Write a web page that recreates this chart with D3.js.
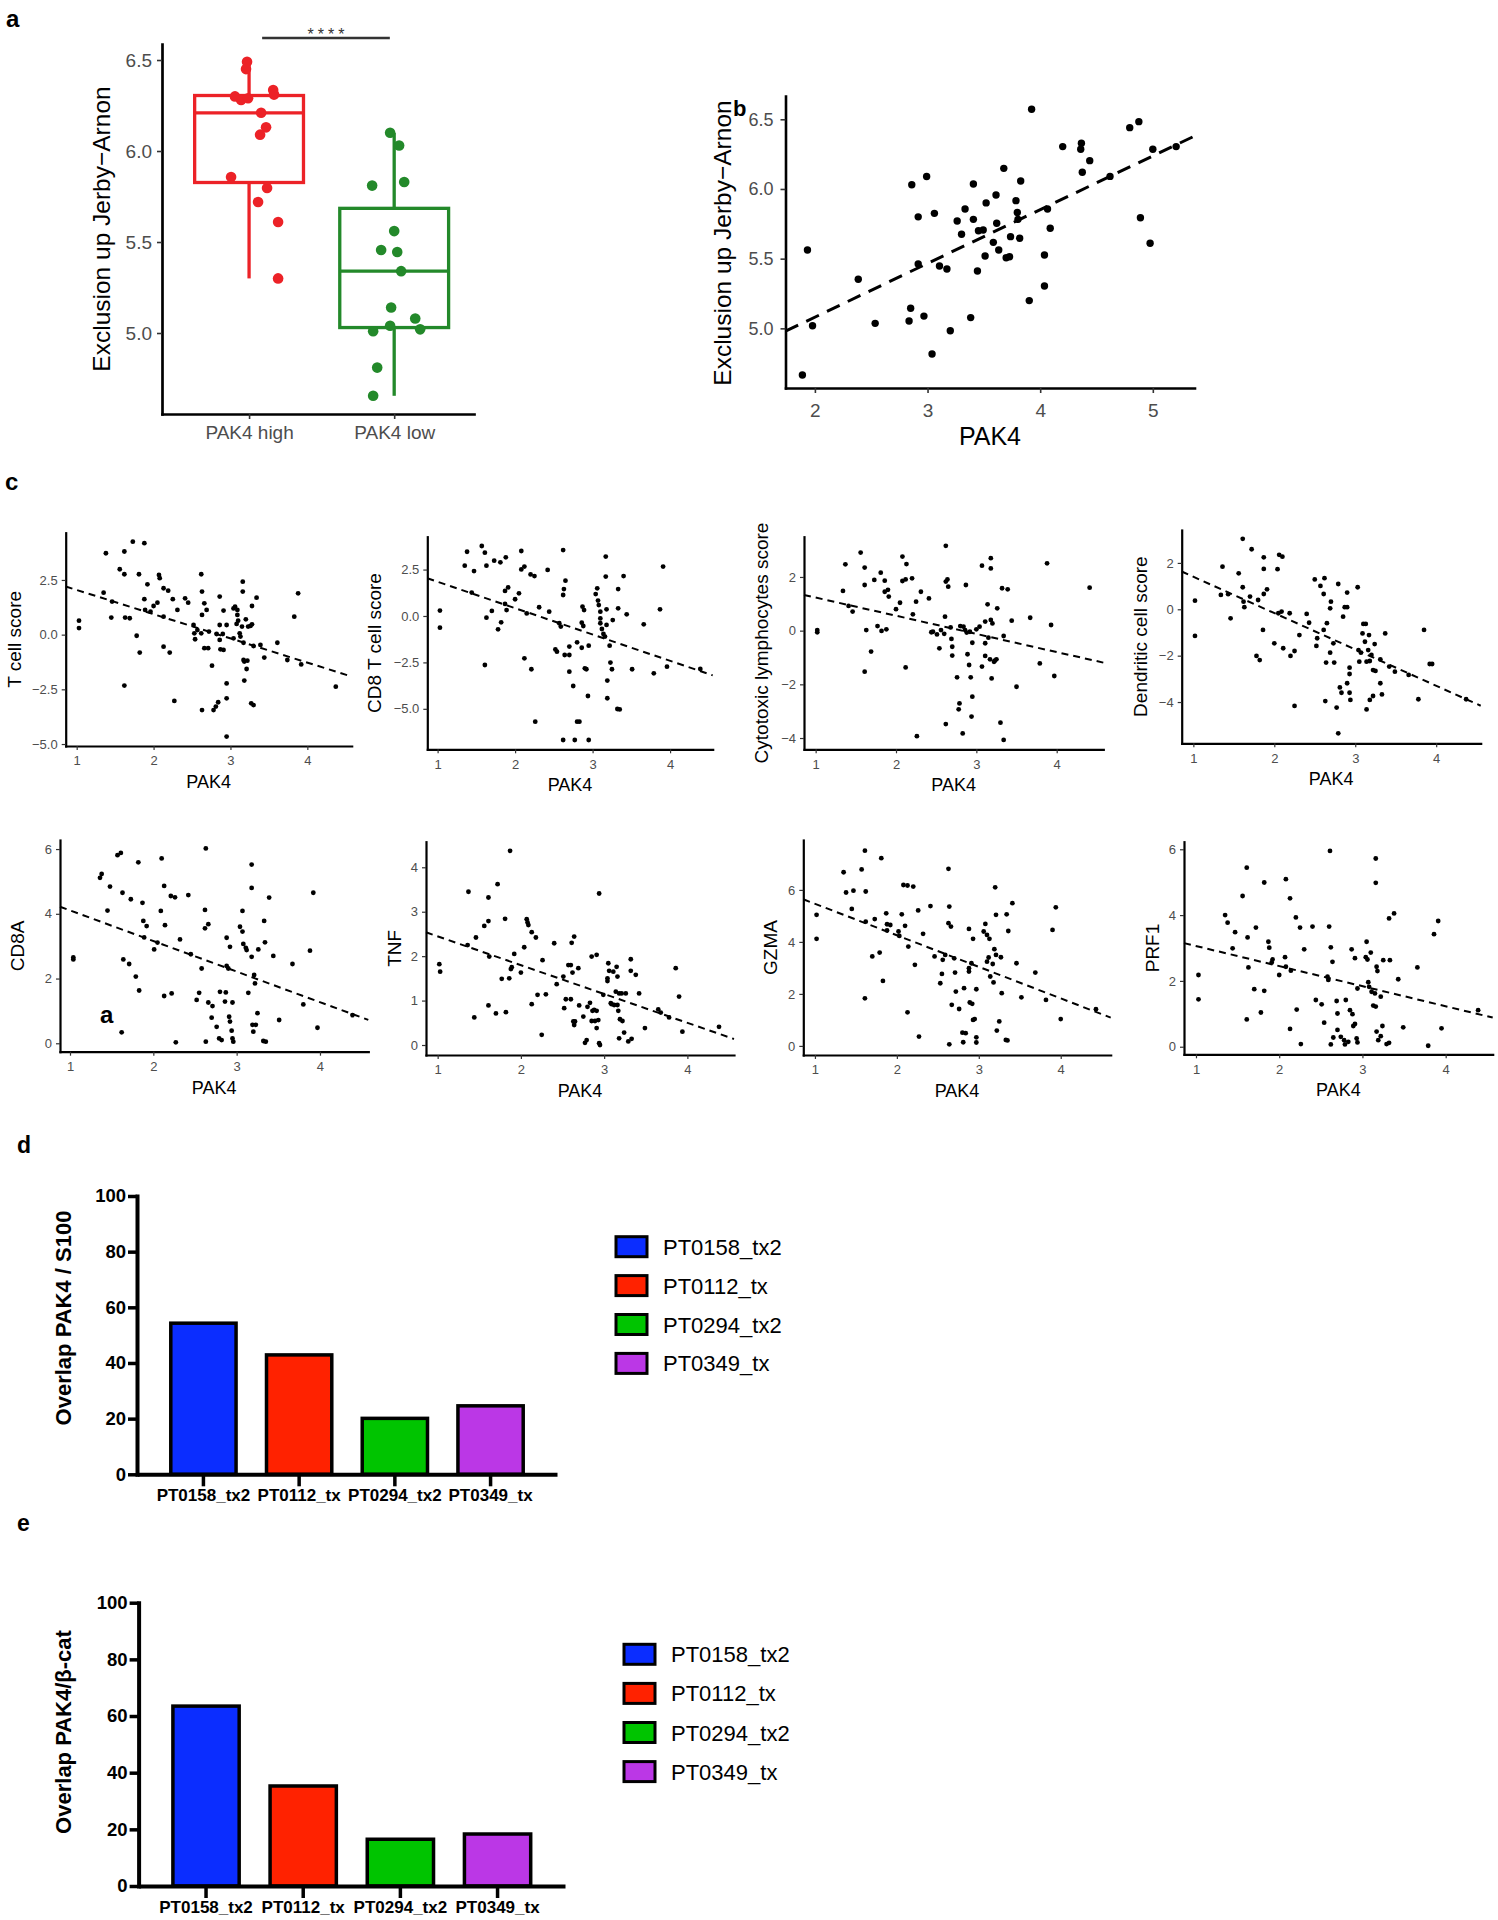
<!DOCTYPE html>
<html><head><meta charset="utf-8">
<script src="https://cdn.jsdelivr.net/npm/d3@7"></script>
<style>body{margin:0;background:#fff;}</style>
</head><body>
<svg id="fig" width="1498" height="1920" xmlns="http://www.w3.org/2000/svg"></svg>
<script>
// ---------------- DATA ----------------
// Panel a: [jittered group position, Exclusion up Jerby-Arnon]
const groupLabels = ["PAK4 high", "PAK4 low"];
const pak4High = [[0.986,6.49],[0.979,6.45],[0.903,6.30],[0.945,6.28],[0.993,6.29],[1.166,6.335],[1.172,6.31],[1.083,6.21],[1.117,6.13],[1.076,6.09],[0.876,5.857],[1.124,5.797],[1.062,5.72],[1.2,5.61],[1.2,5.30]];
const pak4Low = [[1.972,6.10],[2.034,6.03],[1.848,5.81],[2.069,5.83],[2.0,5.56],[1.91,5.456],[2.021,5.445],[2.048,5.34],[1.979,5.14],[2.145,5.08],[1.972,5.04],[1.855,5.01],[2.179,5.02],[1.883,4.81],[1.855,4.655]];
const aTicks = [5.0, 5.5, 6.0, 6.5];
const sigSpan = [1.09, 1.97];
const sigLabel = "****";

// Panel b: [PAK4, Exclusion up Jerby-Arnon]
const bPoints = [[3.924,6.572],[4.795,6.44],[4.876,6.483],[4.2,6.304],[4.366,6.328],[4.36,6.285],[4.44,6.203],[4.374,6.12],[4.62,6.09],[5.0,6.285],[5.207,6.304],[4.89,5.794],[4.976,5.61],[3.677,6.148],[2.992,6.089],[2.86,6.03],[3.407,6.036],[3.827,6.057],[3.608,5.957],[3.52,5.90],[3.785,5.916],[3.333,5.856],[4.065,5.856],[3.797,5.832],[3.061,5.825],[2.917,5.80],[3.407,5.782],[3.803,5.782],[3.263,5.77],[3.614,5.754],[4.089,5.718],[3.452,5.70],[3.494,5.706],[3.302,5.675],[3.737,5.658],[3.818,5.646],[3.584,5.617],[3.632,5.562],[4.038,5.526],[3.511,5.519],[3.698,5.507],[3.728,5.514],[2.917,5.462],[3.106,5.447],[3.172,5.426],[3.443,5.411],[1.934,5.562],[2.385,5.352],[4.038,5.304],[3.903,5.199],[2.85,5.144],[2.836,5.053],[2.968,5.088],[3.383,5.077],[2.535,5.036],[1.979,5.019],[3.202,4.983],[3.04,4.816],[1.889,4.665]];
const bFit = [4.309, 0.3856];      // intercept, slope
const bXTicks = [2, 3, 4, 5];
const bYTicks = [5.0, 5.5, 6.0, 6.5];

// Panel c: [PAK4, score]
const tCellScore = [[1.03,0.64],[1.03,0.30],[1.38,3.72],[1.35,1.92],[1.46,1.51],[1.45,0.78],[1.56,2.99],[1.62,3.80],[1.62,2.76],[1.73,4.25],[1.88,4.18],[1.63,0.78],[1.69,0.75],[1.62,-2.33],[1.81,2.76],[1.78,-0.05],[1.82,-0.82],[1.92,2.30],[1.88,1.62],[1.89,1.13],[1.96,1.05],[2.0,1.31],[2.05,1.46],[2.07,2.73],[2.08,2.58],[2.13,2.12],[2.19,2.01],[2.13,0.82],[2.13,-0.55],[2.21,-0.82],[2.25,1.62],[2.31,1.13],[2.27,-3.03],[2.41,1.66],[2.45,1.46],[2.52,0.44],[2.53,0.06],[2.54,-0.21],[2.57,0.21],[2.62,0.06],[2.62,2.76],[2.63,1.97],[2.66,1.43],[2.63,0.90],[2.66,-0.62],[2.71,-0.62],[2.69,1.13],[2.72,0.14],[2.63,-3.45],[2.76,-1.42],[2.78,-3.45],[2.81,-3.29],[2.84,-3.09],[2.82,0.03],[2.86,0.44],[2.86,1.74],[2.86,-0.24],[2.87,-0.67],[2.91,-0.70],[2.90,0.03],[2.91,1.10],[2.95,0.44],[2.95,-2.23],[2.95,-2.91],[2.95,-4.66],[3.04,1.20],[3.06,1.28],[3.09,1.13],[3.09,0.90],[3.08,0.49],[3.10,0.64],[3.04,-0.17],[3.12,0.06],[3.13,-0.09],[3.15,0.37],[3.16,1.97],[3.16,2.42],[3.17,-0.37],[3.17,-1.16],[3.18,-1.23],[3.18,-2.10],[3.20,0.70],[3.21,-1.57],[3.22,-1.19],[3.23,0.37],[3.26,0.40],[3.28,1.31],[3.28,0.47],[3.30,-0.52],[3.27,-3.14],[3.30,-3.22],[3.34,1.69],[3.39,-0.47],[3.44,-1.05],[3.61,-0.37],[3.74,-1.16],[3.83,0.82],[3.88,1.89],[3.92,-1.36],[4.37,-2.38]];
const cd8TCellScore = [[1.03,0.29],[1.03,-0.63],[1.35,2.71],[1.38,3.46],[1.47,2.42],[1.44,1.26],[1.57,3.77],[1.61,3.41],[1.63,2.71],[1.63,-0.09],[1.61,-2.64],[1.70,0.27],[1.73,2.98],[1.81,2.89],[1.82,-0.34],[1.78,-0.72],[1.88,3.16],[1.87,1.35],[1.91,1.54],[1.89,0.32],[1.87,0.65],[2.0,0.90],[2.05,1.22],[2.08,3.50],[2.08,2.51],[2.12,2.66],[2.15,0.14],[2.12,-2.28],[2.20,2.24],[2.25,2.15],[2.21,-2.87],[2.26,-5.69],[2.31,0.47],[2.42,2.48],[2.44,0.23],[2.52,-1.80],[2.54,-1.92],[2.57,-0.39],[2.59,-0.57],[2.62,3.55],[2.62,1.13],[2.63,1.45],[2.65,1.90],[2.64,-2.10],[2.70,-2.10],[2.70,-1.65],[2.70,-3.00],[2.62,-6.68],[2.75,-3.77],[2.77,-6.68],[2.80,-5.69],[2.83,-5.69],[2.80,-1.42],[2.86,-0.36],[2.86,-1.71],[2.87,0.50],[2.89,0.32],[2.88,-0.54],[2.90,-2.82],[2.92,-2.87],[2.95,-1.60],[2.94,-4.31],[2.95,-6.68],[3.04,1.18],[3.06,1.49],[3.07,0.83],[3.08,0.59],[3.10,0.23],[3.10,-0.13],[3.10,-0.39],[3.12,-0.70],[3.14,-0.97],[3.16,-1.11],[3.17,3.20],[3.17,2.12],[3.18,0.36],[3.18,-0.48],[3.19,-3.48],[3.19,-4.43],[3.22,-1.60],[3.23,-2.51],[3.25,-2.87],[3.26,-0.22],[3.32,-5.01],[3.35,-5.03],[3.33,0.41],[3.33,1.45],[3.40,2.15],[3.44,0.09],[3.51,-2.87],[3.66,-0.45],[3.79,-3.09],[3.87,0.36],[3.91,2.66],[3.96,-2.73],[4.39,-2.85]];
const cytotoxicScore = [[1.02,0.02],[1.02,-0.06],[1.34,1.48],[1.37,2.47],[1.41,0.92],[1.46,0.71],[1.56,2.91],[1.61,2.35],[1.61,1.70],[1.63,0.02],[1.61,-1.53],[1.69,-0.78],[1.73,1.89],[1.77,0.17],[1.81,2.16],[1.82,-0.01],[1.86,1.86],[1.86,1.45],[1.88,0.05],[1.90,1.52],[1.91,1.27],[2.0,0.80],[2.05,1.04],[2.08,2.76],[2.08,1.85],[2.12,1.91],[2.13,2.48],[2.12,-1.37],[2.20,1.95],[2.21,0.61],[2.25,1.08],[2.26,-3.93],[2.31,1.45],[2.41,1.20],[2.44,-0.06],[2.46,-0.04],[2.51,-0.14],[2.54,-0.66],[2.56,0.02],[2.60,-0.12],[2.61,0.52],[2.62,3.16],[2.62,1.83],[2.64,1.91],[2.65,1.64],[2.62,-3.48],[2.68,0.12],[2.69,-0.31],[2.70,-0.60],[2.70,-0.93],[2.76,-1.74],[2.78,-2.93],[2.79,-2.71],[2.80,0.17],[2.83,-3.83],[2.84,0.15],[2.86,0.02],[2.87,1.70],[2.88,-0.07],[2.89,-0.88],[2.91,-1.28],[2.92,-0.04],[2.93,-1.74],[2.95,-2.46],[2.95,-0.45],[2.94,-3.20],[3.0,0.05],[3.04,0.15],[3.07,2.42],[3.07,-1.34],[3.11,0.34],[3.11,-0.47],[3.11,-0.94],[3.14,0.98],[3.15,-0.26],[3.17,-1.07],[3.18,2.32],[3.18,2.70],[3.18,0.40],[3.19,-1.78],[3.20,0.27],[3.22,-1.16],[3.23,-1.12],[3.25,-1.07],[3.26,0.83],[3.30,-3.43],[3.32,1.58],[3.34,-0.20],[3.34,-4.07],[3.39,1.54],[3.44,0.37],[3.50,-2.09],[3.67,0.48],[3.79,-1.22],[3.88,2.51],[3.93,0.21],[3.97,-1.69],[4.41,1.60]];
const dendriticScore = [[1.02,0.37],[1.02,-1.15],[1.36,1.84],[1.34,0.62],[1.43,0.65],[1.46,-0.39],[1.56,1.55],[1.61,3.04],[1.61,0.95],[1.62,0.33],[1.63,0.09],[1.70,0.55],[1.72,2.59],[1.78,-2.01],[1.82,-2.19],[1.80,0.40],[1.87,2.24],[1.87,1.74],[1.86,-0.89],[1.87,0.66],[1.91,0.86],[2.0,-1.47],[2.04,1.73],[2.06,2.35],[2.10,2.27],[2.05,-0.17],[2.09,-0.10],[2.11,-1.68],[2.19,-0.17],[2.20,-2.01],[2.25,-1.80],[2.25,-4.17],[2.31,-1.11],[2.40,-0.20],[2.43,-0.58],[2.50,1.29],[2.52,-1.58],[2.53,-1.25],[2.57,1.01],[2.61,0.66],[2.62,1.34],[2.61,-0.89],[2.63,-3.96],[2.65,-0.60],[2.64,-2.30],[2.69,0.04],[2.69,-1.87],[2.70,0.33],[2.74,-2.30],[2.73,-1.47],[2.77,-4.24],[2.79,-5.35],[2.79,1.09],[2.81,-3.37],[2.83,-3.60],[2.85,-0.32],[2.87,0.09],[2.90,0.09],[2.90,0.72],[2.90,-3.19],[2.93,-2.79],[2.93,-2.52],[2.93,-3.60],[2.94,-3.91],[3.03,0.95],[3.04,-1.76],[3.05,-2.26],[3.07,-1.87],[3.09,-1.04],[3.10,-0.63],[3.12,-1.40],[3.13,-0.63],[3.14,-2.26],[3.14,-4.32],[3.16,-1.76],[3.17,-1.11],[3.18,-2.23],[3.18,-3.91],[3.20,-1.97],[3.22,-2.62],[3.22,-3.74],[3.25,-2.66],[3.24,-1.50],[3.31,-2.16],[3.31,-3.19],[3.33,-3.67],[3.37,-1.04],[3.42,-2.47],[3.49,-2.69],[3.66,-2.83],[3.78,-3.88],[3.85,-0.89],[3.92,-2.36],[3.95,-2.36],[4.37,-3.88]];
const cd8a = [[1.04,2.65],[1.04,2.59],[1.36,5.11],[1.38,5.23],[1.48,4.84],[1.45,4.10],[1.57,5.81],[1.61,5.88],[1.63,4.65],[1.64,2.59],[1.62,0.34],[1.73,4.45],[1.71,2.45],[1.79,2.06],[1.82,5.59],[1.83,1.63],[1.87,4.34],[1.88,3.78],[1.89,3.27],[1.92,3.62],[2.01,2.90],[2.05,3.11],[2.09,4.09],[2.10,5.71],[2.13,4.86],[2.14,3.65],[2.13,1.46],[2.21,4.55],[2.26,4.51],[2.22,1.54],[2.27,0.03],[2.32,3.21],[2.42,4.58],[2.45,2.75],[2.52,1.34],[2.55,1.56],[2.58,2.31],[2.62,4.12],[2.63,6.02],[2.62,3.55],[2.63,0.05],[2.66,3.68],[2.66,1.26],[2.71,1.15],[2.70,0.79],[2.76,0.51],[2.80,1.59],[2.79,0.15],[2.82,0.10],[2.87,1.57],[2.86,1.29],[2.88,3.26],[2.88,2.39],[2.90,2.31],[2.91,0.82],[2.92,0.67],[2.92,2.98],[2.94,0.39],[2.95,1.26],[2.95,0.15],[2.96,0.05],[3.04,3.60],[3.07,4.09],[3.07,3.45],[3.08,3.07],[3.11,2.95],[3.12,2.88],[3.14,1.56],[3.18,5.52],[3.18,4.80],[3.18,2.67],[3.19,0.57],[3.20,0.36],[3.21,2.11],[3.22,1.85],[3.23,0.57],[3.25,0.93],[3.26,2.90],[3.32,0.07],[3.35,0.05],[3.33,3.78],[3.34,3.12],[3.39,4.50],[3.44,2.70],[3.51,0.72],[3.67,2.45],[3.80,1.20],[3.88,2.86],[3.92,4.65],[3.97,0.48],[4.39,0.87]];
const tnf = [[1.02,1.82],[1.03,1.65],[1.37,3.45],[1.36,2.25],[1.46,2.42],[1.44,0.62],[1.56,2.68],[1.61,2.79],[1.61,3.32],[1.61,0.89],[1.62,1.99],[1.70,0.71],[1.72,3.62],[1.77,1.49],[1.81,2.84],[1.82,0.74],[1.86,1.50],[1.87,4.37],[1.88,1.71],[1.89,1.75],[1.92,2.05],[2.0,1.63],[2.04,2.20],[2.07,2.83],[2.08,2.76],[2.09,2.70],[2.13,2.54],[2.13,0.92],[2.18,2.42],[2.20,1.13],[2.26,1.91],[2.25,0.23],[2.30,1.14],[2.40,2.29],[2.43,1.37],[2.51,1.54],[2.52,0.83],[2.54,1.03],[2.57,1.80],[2.60,1.03],[2.60,1.80],[2.61,2.30],[2.62,1.63],[2.64,2.44],[2.63,0.53],[2.64,0.45],[2.65,0.53],[2.69,1.73],[2.70,0.89],[2.75,0.64],[2.77,0.05],[2.79,0.11],[2.80,0.86],[2.83,0.95],[2.85,0.54],[2.86,0.77],[2.85,1.99],[2.88,0.79],[2.89,0.54],[2.91,0.38],[2.91,0.77],[2.91,2.03],[2.93,0.56],[2.94,0.04],[2.94,3.41],[2.95,0.0],[2.99,1.13],[3.04,1.50],[3.05,1.84],[3.04,1.44],[3.06,1.67],[3.08,0.94],[3.09,0.92],[3.11,1.65],[3.12,0.90],[3.14,1.20],[3.15,1.76],[3.16,1.54],[3.16,0.90],[3.17,0.77],[3.18,1.16],[3.18,0.15],[3.19,0.58],[3.21,1.16],[3.22,0.54],[3.24,0.28],[3.26,1.16],[3.29,0.08],[3.32,1.93],[3.32,1.67],[3.33,0.14],[3.38,1.58],[3.42,1.16],[3.49,0.38],[3.65,0.80],[3.68,0.73],[3.78,0.62],[3.86,1.73],[3.90,1.09],[3.94,0.30],[4.38,0.41]];
const gzma = [[1.02,5.04],[1.02,4.12],[1.35,6.68],[1.38,5.90],[1.47,5.97],[1.45,5.27],[1.57,6.79],[1.61,7.51],[1.62,5.94],[1.62,4.78],[1.61,1.83],[1.70,3.44],[1.73,4.88],[1.79,3.59],[1.81,7.22],[1.83,2.50],[1.87,5.10],[1.88,4.68],[1.88,4.44],[1.92,4.65],[2.02,4.40],[2.03,4.23],[2.06,5.06],[2.08,6.19],[2.10,4.62],[2.13,6.17],[2.14,3.82],[2.13,1.29],[2.20,6.13],[2.22,3.12],[2.26,5.21],[2.27,0.36],[2.32,4.31],[2.41,5.38],[2.46,3.44],[2.53,2.41],[2.55,2.77],[2.56,3.31],[2.59,3.50],[2.63,6.81],[2.64,5.36],[2.63,4.72],[2.66,4.59],[2.64,0.06],[2.67,1.58],[2.70,3.37],[2.71,2.82],[2.72,2.09],[2.76,1.42],[2.80,0.51],[2.82,2.22],[2.81,0.14],[2.84,0.49],[2.88,4.50],[2.88,2.99],[2.88,2.86],[2.89,1.67],[2.92,1.62],[2.91,3.18],[2.93,4.12],[2.93,1.0],[2.95,1.03],[2.97,2.18],[2.97,0.33],[2.97,0.13],[3.06,4.40],[3.08,4.69],[3.10,4.27],[3.10,3.24],[3.12,3.40],[3.13,4.12],[3.14,2.67],[3.17,3.15],[3.18,2.44],[3.19,3.72],[3.20,6.10],[3.21,5.04],[3.21,3.50],[3.22,0.59],[3.25,0.94],[3.27,3.41],[3.28,2.03],[3.33,0.23],[3.35,0.21],[3.34,5.06],[3.36,4.42],[3.41,5.49],[3.46,3.18],[3.52,1.87],[3.69,2.82],[3.82,1.77],[3.90,4.46],[3.94,5.33],[4.0,1.03],[4.43,1.41]];
const prf1 = [[1.03,2.18],[1.03,1.44],[1.35,4.0],[1.38,3.77],[1.47,3.48],[1.44,2.99],[1.56,4.58],[1.61,5.44],[1.62,3.32],[1.63,2.41],[1.61,0.83],[1.70,1.75],[1.72,3.62],[1.78,1.04],[1.82,4.99],[1.82,1.70],[1.87,3.19],[1.88,3.01],[1.91,2.56],[1.92,2.65],[2.0,2.18],[2.07,2.72],[2.08,5.09],[2.08,2.43],[2.13,4.51],[2.14,2.31],[2.13,0.54],[2.20,3.93],[2.21,1.13],[2.25,3.62],[2.26,0.08],[2.30,2.96],[2.40,3.65],[2.44,1.42],[2.51,1.29],[2.54,0.73],[2.58,2.13],[2.59,2.03],[2.61,5.95],[2.60,3.65],[2.62,3.02],[2.62,0.07],[2.64,2.58],[2.65,0.28],[2.69,1.39],[2.70,1.01],[2.70,0.51],[2.74,0.30],[2.78,0.20],[2.80,1.42],[2.79,0.07],[2.83,0.15],[2.85,1.11],[2.87,2.96],[2.88,0.99],[2.89,0.63],[2.91,2.69],[2.91,0.69],[2.93,0.25],[2.94,1.77],[2.94,0.13],[3.05,3.19],[3.04,2.72],[3.06,2.65],[3.07,1.96],[3.08,1.82],[3.10,2.86],[3.11,1.67],[3.13,1.25],[3.15,1.62],[3.16,1.22],[3.16,5.72],[3.16,4.98],[3.17,2.43],[3.18,2.30],[3.17,0.46],[3.19,0.20],[3.22,1.52],[3.22,0.32],[3.24,0.63],[3.25,2.63],[3.29,0.08],[3.32,0.12],[3.32,3.90],[3.33,2.63],[3.38,4.05],[3.43,2.05],[3.49,0.59],[3.66,2.41],[3.79,0.03],[3.86,3.42],[3.91,3.82],[3.95,0.56],[4.39,1.11]];
// fitted lines: intercept, slope
const tCellFit = [3.15, -1.107];
const cd8TCellFit = [3.26, -1.419];
const cytotoxicFit = [1.91, -0.677];
const dendriticFit = [2.97, -1.567];
const cd8aFit = [5.05, -0.945];
const tnfFit = [3.095, -0.649];
const gzmaFit = [6.68, -1.213];
const prf1Fit = [3.67, -0.61];
const cXTicks = [1, 2, 3, 4];

// Panels d, e
const samples = ["PT0158_tx2", "PT0112_tx", "PT0294_tx2", "PT0349_tx"];
const overlapS100 = [54.3, 42.9, 20.1, 24.6];
const overlapBcat = [63.5, 35.3, 16.5, 18.35];
const barTicks = [0, 20, 40, 60, 80, 100];

// ---------------- DRAWING ----------------
const FONT = '"Liberation Sans", Arial, Helvetica, sans-serif';
const svg = d3.select("#fig");
svg.append("rect").attr("width", 1498).attr("height", 1920).attr("fill", "#fff");

function styleAxis(g, o) {
  g.attr("font-family", FONT).attr("font-size", o.fs);
  g.select(".domain").attr("stroke", "#000").attr("stroke-width", o.lw).attr("stroke-linecap", "square");
  g.selectAll(".tick line").attr("stroke", o.tickColor || "#333").attr("stroke-width", o.tw);
  g.selectAll(".tick text").attr("fill", o.tc || "#4d4d4d").attr("font-weight", o.fw || "normal");
}
function txt(t, x, y, o) {
  const e = svg.append("text").attr("x", x).attr("y", y).attr("font-family", FONT)
    .attr("font-size", o.fs).attr("font-weight", o.fw || "normal").attr("fill", o.fill || "#000")
    .attr("text-anchor", o.anchor || "start").text(t);
  if (o.rot) e.attr("transform", `rotate(-90,${x},${y})`).attr("dy", "0.35em");
  if (o.ls) e.attr("letter-spacing", o.ls);
  return e;
}
const intFmt = d3.format("d");

// panel labels
txt("a", 6, 27, {fs: 24, fw: "bold"});
txt("b", 733, 116, {fs: 22, fw: "bold"});
txt("c", 5, 490, {fs: 24, fw: "bold"});
txt("d", 17, 1153, {fs: 23, fw: "bold"});
txt("e", 17, 1531, {fs: 23, fw: "bold"});

// ---- Panel a ----
{
  const x = d3.scaleLinear().domain([0.4, 2.55]).range([162, 474]);
  const y = d3.scaleLinear().domain([4.555, 6.588]).range([414, 44]);
  const groups = [
    {pos: 1, pts: pak4High, color: "#ec2227"},
    {pos: 2, pts: pak4Low, color: "#23892a"}
  ];
  const g = svg.append("g");
  groups.forEach(gr => {
    const v = gr.pts.map(d => d[1]).sort(d3.ascending);
    const q1 = d3.quantile(v, 0.25), md = d3.quantile(v, 0.5), q3 = d3.quantile(v, 0.75), iqr = q3 - q1;
    const lo = d3.min(v.filter(d => d >= q1 - 1.5 * iqr)), hi = d3.max(v.filter(d => d <= q3 + 1.5 * iqr));
    const cx = x(gr.pos), x0 = x(gr.pos - 0.375), x1 = x(gr.pos + 0.375);
    const ln = (a, b, c, d) => g.append("line").attr("x1", a).attr("y1", b).attr("x2", c).attr("y2", d)
      .attr("stroke", gr.color).attr("stroke-width", 3.3);
    ln(cx, y(q3), cx, y(hi));
    ln(cx, y(q1), cx, y(lo));
    g.append("rect").attr("x", x0).attr("y", y(q3)).attr("width", x1 - x0).attr("height", y(q1) - y(q3))
      .attr("fill", "#fff").attr("stroke", gr.color).attr("stroke-width", 3.3);
    ln(x0, y(md), x1, y(md));
  });
  groups.forEach(gr => {
    g.selectAll(null).data(gr.pts).join("circle").attr("cx", d => x(d[0])).attr("cy", d => y(d[1]))
      .attr("r", 5.3).attr("fill", gr.color);
  });
  const ya = g.append("g").attr("transform", "translate(162,0)")
    .call(d3.axisLeft(y).tickValues(aTicks).tickFormat(d3.format(".1f")).tickSize(5).tickPadding(5).tickSizeOuter(0));
  styleAxis(ya, {fs: 19, lw: 2.7, tw: 1.6});
  const xa = g.append("g").attr("transform", "translate(0,414)")
    .call(d3.axisBottom(x).tickValues([1, 2]).tickFormat(d => groupLabels[d - 1]).tickSize(5).tickPadding(7).tickSizeOuter(0));
  styleAxis(xa, {fs: 19, lw: 2.7, tw: 1.6});
  txt("Exclusion up Jerby\u2212Arnon", 101, 229, {fs: 24.5, anchor: "middle", rot: true});
  // significance
  g.append("line").attr("x1", x(sigSpan[0])).attr("x2", x(sigSpan[1])).attr("y1", 38).attr("y2", 38)
    .attr("stroke", "#333").attr("stroke-width", 2.4);
  txt(sigLabel, x((sigSpan[0] + sigSpan[1]) / 2) + 2, 40, {fs: 16, anchor: "middle", fill: "#333", ls: 4});
}

// ---- Panel b ----
{
  const x = d3.scaleLinear().domain([1.739, 5.37]).range([785.5, 1194.5]);
  const y = d3.scaleLinear().domain([4.572, 6.667]).range([388, 96]);
  const g = svg.append("g");
  g.selectAll(null).data(bPoints).join("circle").attr("cx", d => x(d[0])).attr("cy", d => y(d[1]))
    .attr("r", 3.7).attr("fill", "#000");
  const xd = x.domain();
  g.append("line").attr("x1", x(xd[0])).attr("y1", y(bFit[0] + bFit[1] * xd[0]))
    .attr("x2", x(xd[1])).attr("y2", y(bFit[0] + bFit[1] * xd[1]))
    .attr("stroke", "#000").attr("stroke-width", 3).attr("stroke-dasharray", "14,9");
  const ya = g.append("g").attr("transform", "translate(785.5,0)")
    .call(d3.axisLeft(y).tickValues(bYTicks).tickFormat(d3.format(".1f")).tickSize(5).tickPadding(7).tickSizeOuter(0));
  styleAxis(ya, {fs: 18, lw: 2.6, tw: 1.6});
  const xa = g.append("g").attr("transform", "translate(0,388)")
    .call(d3.axisBottom(x).tickValues(bXTicks).tickFormat(intFmt).tickSize(5).tickPadding(11).tickSizeOuter(0));
  styleAxis(xa, {fs: 19, lw: 2.6, tw: 1.6});
  txt("Exclusion up Jerby\u2212Arnon", 722, 243, {fs: 24.5, anchor: "middle", rot: true});
  txt("PAK4", 990, 445, {fs: 25, anchor: "middle"});
}

// ---- Panel c ----
const cPanels = [
  {data: tCellScore, fit: tCellFit, title: "T cell score", xr: [65.7, 351.7], xd: [0.857, 4.577], yr: [746, 532.7], yd: [-5.09, 4.66], yt: [-5, -2.5, 0, 2.5], fmt: ".1f", tx: 14},
  {data: cd8TCellScore, fit: cd8TCellFit, title: "CD8 T cell score", xr: [427.3, 712.7], xd: [0.867, 4.55], yr: [749.3, 536.7], yd: [-7.18, 4.27], yt: [-5, -2.5, 0, 2.5], fmt: ".1f", tx: 374},
  {data: cytotoxicScore, fit: cytotoxicFit, title: "Cytotoxic lymphocytes score", xr: [804, 1103.3], xd: [0.855, 4.58], yr: [749.3, 536.7], yd: [-4.42, 3.50], yt: [-4, -2, 0, 2], fmt: "d", tx: 761},
  {data: dendriticScore, fit: dendriticFit, title: "Dendritic cell score", xr: [1181.7, 1480.7], xd: [0.856, 4.55], yr: [743.3, 530], yd: [-5.78, 3.42], yt: [-4, -2, 0, 2], fmt: "d", tx: 1140},
  {data: cd8a, fit: cd8aFit, title: "CD8A", xr: [60, 368.3], xd: [0.88, 4.58], yr: [1051.7, 840], yd: [-0.26, 6.28], yt: [0, 2, 4, 6], fmt: "d", tx: 17},
  {data: tnf, fit: tnfFit, title: "TNF", xr: [426, 734], xd: [0.86, 4.56], yr: [1055, 841.7], yd: [-0.225, 4.576], yt: [0, 1, 2, 3, 4], fmt: "d", tx: 394},
  {data: gzma, fit: gzmaFit, title: "GZMA", xr: [803.3, 1110.7], xd: [0.858, 4.61], yr: [1055, 840], yd: [-0.35, 7.92], yt: [0, 2, 4, 6], fmt: "d", tx: 770},
  {data: prf1, fit: prf1Fit, title: "PRF1", xr: [1184, 1492.7], xd: [0.856, 4.565], yr: [1054.3, 841.7], yd: [-0.23, 6.23], yt: [0, 2, 4, 6], fmt: "d", tx: 1152}
];
cPanels.forEach(p => {
  const x = d3.scaleLinear().domain(p.xd).range(p.xr);
  const y = d3.scaleLinear().domain(p.yd).range(p.yr);
  const g = svg.append("g");
  g.selectAll(null).data(p.data).join("circle").attr("cx", d => x(d[0])).attr("cy", d => y(d[1]))
    .attr("r", 2.4).attr("fill", "#000");
  const xd = x.domain();
  g.append("line").attr("x1", x(xd[0])).attr("y1", y(p.fit[0] + p.fit[1] * xd[0]))
    .attr("x2", x(xd[1])).attr("y2", y(p.fit[0] + p.fit[1] * xd[1]))
    .attr("stroke", "#000").attr("stroke-width", 2).attr("stroke-dasharray", "7,5");
  const ya = g.append("g").attr("transform", `translate(${p.xr[0]},0)`)
    .call(d3.axisLeft(y).tickValues(p.yt).tickFormat(d3.format(p.fmt)).tickSize(4).tickPadding(4).tickSizeOuter(0));
  styleAxis(ya, {fs: 13, lw: 2.2, tw: 1.2});
  const xa = g.append("g").attr("transform", `translate(0,${p.yr[0]})`)
    .call(d3.axisBottom(x).tickValues(cXTicks).tickFormat(intFmt).tickSize(4).tickPadding(6).tickSizeOuter(0));
  styleAxis(xa, {fs: 13, lw: 2.2, tw: 1.2});
  txt(p.title, p.tx, (p.yr[0] + p.yr[1]) / 2, {fs: 19, anchor: "middle", rot: true});
  txt("PAK4", (p.xr[0] + p.xr[1]) / 2, p.yr[0] + 42, {fs: 18, anchor: "middle"});
});
txt("a", 100, 1023, {fs: 24, fw: "bold"});

// ---- Panels d, e ----
const barColors = ["#0b2dff", "#ff2200", "#00c400", "#bb37e6"];
function barPanel(o) {
  const x = d3.scaleBand().domain(samples).range(o.xr).paddingInner(0.318).paddingOuter(0.353);
  const y = d3.scaleLinear().domain([0, 100]).range(o.yr);
  const g = svg.append("g");
  g.selectAll(null).data(o.values).join("rect")
    .attr("x", (d, i) => x(samples[i])).attr("width", x.bandwidth())
    .attr("y", d => y(d)).attr("height", d => y(0) - y(d))
    .attr("fill", (d, i) => barColors[i]).attr("stroke", "#000").attr("stroke-width", 3.5);
  const ya = g.append("g").attr("transform", `translate(${o.xr[0]},0)`)
    .call(d3.axisLeft(y).tickValues(barTicks).tickSize(9).tickPadding(2).tickSizeOuter(0));
  styleAxis(ya, {fs: 18.5, lw: 4, tw: 3.5, tickColor: "#000", tc: "#000", fw: "bold"});
  const xa = g.append("g").attr("transform", `translate(0,${o.yr[0]})`)
    .call(d3.axisBottom(x).tickSize(12).tickPadding(3).tickSizeOuter(0));
  styleAxis(xa, {fs: 17, lw: 4, tw: 3.5, tickColor: "#000", tc: "#000", fw: "bold"});
  xa.select(".domain").attr("stroke-linecap", "butt");
  txt(o.title, o.titleX, o.titleY, {fs: 22, fw: "bold", anchor: "middle", rot: true});
  const lg = g.append("g");
  samples.forEach((s, i) => {
    const cy = o.legY0 + i * o.legStep;
    lg.append("rect").attr("x", o.legX).attr("y", cy - 10).attr("width", 31).attr("height", 20)
      .attr("fill", barColors[i]).attr("stroke", "#000").attr("stroke-width", 3);
    lg.append("text").attr("x", o.legX + 47).attr("y", cy + 8).attr("font-family", FONT)
      .attr("font-size", 22).text(s);
  });
}
barPanel({values: overlapS100, title: "Overlap PAK4 / S100", xr: [137, 557], yr: [1474.3, 1196],
  titleX: 63, titleY: 1318, legX: 616, legY0: 1246.7, legStep: 38.9});
barPanel({values: overlapBcat, title: "Overlap PAK4/\u03b2-cat", xr: [138.6, 565], yr: [1886, 1602.7],
  titleX: 63, titleY: 1732, legX: 624, legY0: 1654.3, legStep: 39.1});
</script>
</body></html>
